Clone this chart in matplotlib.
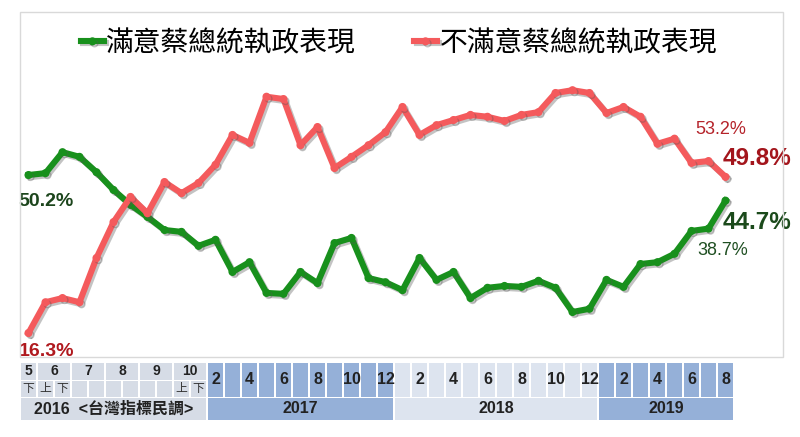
import numpy as np
import matplotlib.pyplot as plt
import matplotlib.patheffects as pe
from matplotlib.patches import Rectangle

plt.rcParams['font.family'] = ['Noto Sans CJK TC', 'DejaVu Sans']

# one entry per poll: year, month, half-month mark
years = [2016] * 11 + [2017] * 11 + [2018] * 12 + [2019] * 8
months = [5, 6, 6, 7, 7, 8, 8, 9, 9, 10, 10] + list(range(2, 13)) + list(range(1, 13)) + list(range(1, 9))
halves = ['下', '上', '下', '', '', '', '', '', '', '上', '下'] + [''] * 31

satisfied = [50.2, 50.6, 55.1, 54.1, 50.8, 47.0, 43.8, 41.2, 38.4, 38.0, 35.0,
             36.3, 29.4, 31.5, 24.9, 24.7, 29.4, 27.0, 35.6, 36.7, 28.1, 27.2,
             25.5, 32.4, 27.7, 29.4, 23.8, 26.0, 26.4, 26.2, 27.5, 26.0, 20.8, 21.5,
             27.7, 26.2, 31.1, 31.5, 33.3, 38.2, 38.7, 44.7]
dissatisfied = [16.3, 22.9, 23.8, 22.9, 32.4, 40.1, 45.5, 42.0, 48.7, 46.3, 48.5,
                52.4, 58.8, 57.1, 67.0, 66.5, 56.6, 60.5, 51.7, 54.1, 56.6, 59.4,
                64.8, 58.8, 60.9, 62.0, 63.1, 62.7, 61.8, 63.1, 63.7, 67.8, 68.4, 67.8,
                63.5, 64.8, 62.7, 56.9, 58.0, 52.8, 53.2, 49.8]

GREEN = '#18901c'
RED = '#f45a5c'
year_colors = {2016: '#d6dce6', 2017: '#95b0d8', 2018: '#dde4ef', 2019: '#95b0d8'}
num_font = ['Liberation Sans', 'Noto Sans CJK TC']

W, H = 800, 437
def px_box(l, t, r, b):
    return [l / W, 1 - b / H, (r - l) / W, (b - t) / H]

x = np.arange(len(satisfied))
fig = plt.figure(figsize=(W / 100, H / 100), dpi=100)

ax = fig.add_axes(px_box(20, 12, 734, 357))
ax.set_xlim(-0.5, len(x) - 0.5)
ax.set_ylim(11.15, 85.18)
ax.axis('off')

shadow = [pe.SimpleLineShadow(offset=(1.5, -1.5), shadow_color='#555555', alpha=0.35), pe.Normal()]
ax.plot(x, satisfied, color=GREEN, lw=4.4, marker='o', ms=4.8, clip_on=False,
        solid_joinstyle='round', path_effects=shadow, label='滿意蔡總統執政表現')
ax.plot(x, dissatisfied, color=RED, lw=4.4, marker='o', ms=4.8, clip_on=False,
        solid_joinstyle='round', path_effects=shadow, label='不滿意蔡總統執政表現')

ax.legend(loc='center', bbox_to_anchor=(0.531, 0.91), ncol=2, frameon=False,
          fontsize=20, handlelength=0.8, handletextpad=0.1, columnspacing=2.1,
          borderpad=0)

# value labels
def tag(i, series, txt, dx, dy, color, size, bold):
    ax.annotate(txt, (x[i], series[i]), xytext=(dx, dy), textcoords='offset pixels',
                ha='left', va='center', color=color, fontsize=size,
                fontweight='bold' if bold else 'normal', family=num_font,
                annotation_clip=False)

tag(0, satisfied, '50.2%', -10, -26, '#1c451c', 14, True)
tag(0, dissatisfied, '16.3%', -10, -19, '#b0191e', 14, True)
tag(40, dissatisfied, '53.2%', -13, 32, '#b5232a', 13, False)
tag(41, dissatisfied, '49.8%', -3, 18, '#a3151c', 17.5, True)
tag(41, satisfied, '44.7%', -3, -22, '#1b4a1b', 17.5, True)
tag(40, satisfied, '38.7%', -11, -22, '#1f4f22', 13, False)

fig.patches.append(Rectangle((20 / W, 1 - 357 / H), 763 / W, 345 / H,
                             transform=fig.transFigure, fill=False,
                             ec='#d9d9d9', lw=1))

# period table under the chart
tx = fig.add_axes(px_box(20, 363, 734, 420))
tx.set_xlim(-0.5, len(x) - 0.5)
tx.set_ylim(420, 363)
tx.axis('off')
g = 0.05
txt_kw = dict(ha='center', va='center', color='#222222', family=num_font, fontweight='bold')

for yr in sorted(set(years)):
    idx = [i for i, y in enumerate(years) if y == yr]
    c = year_colors[yr]
    lo, hi = idx[0], idx[-1]
    tx.add_patch(Rectangle((lo - 0.5 + g, 398), hi - lo + 1 - 2 * g, 22, color=c, lw=0))
    label = f'{yr}  <台灣指標民調>' if yr == 2016 else str(yr)
    tx.text((lo + hi) / 2, 409, label, fontsize=11.5, **txt_kw)
    if yr == 2016:
        # month numbers merged over the half-month polls
        groups = {}
        for i in idx:
            groups.setdefault(months[i], []).append(i)
        for m, gi in groups.items():
            tx.add_patch(Rectangle((gi[0] - 0.5 + g, 363), len(gi) - 2 * g, 16.5, color=c, lw=0))
            tx.text((gi[0] + gi[-1]) / 2, 371, str(m), fontsize=10, **txt_kw)
        for i in idx:
            tx.add_patch(Rectangle((i - 0.5 + g, 380.5), 1 - 2 * g, 16.5, color=c, lw=0))
            if halves[i]:
                tx.text(i, 389, halves[i], fontsize=8.5, ha='center', va='center',
                        color='#333333')
    else:
        for i in idx:
            tx.add_patch(Rectangle((i - 0.5 + g, 363), 1 - 2 * g, 34, color=c, lw=0))
            if months[i] % 2 == 0:
                tx.text(i, 380, str(months[i]), fontsize=11.5, **txt_kw)

plt.savefig('out.png', dpi=100)
